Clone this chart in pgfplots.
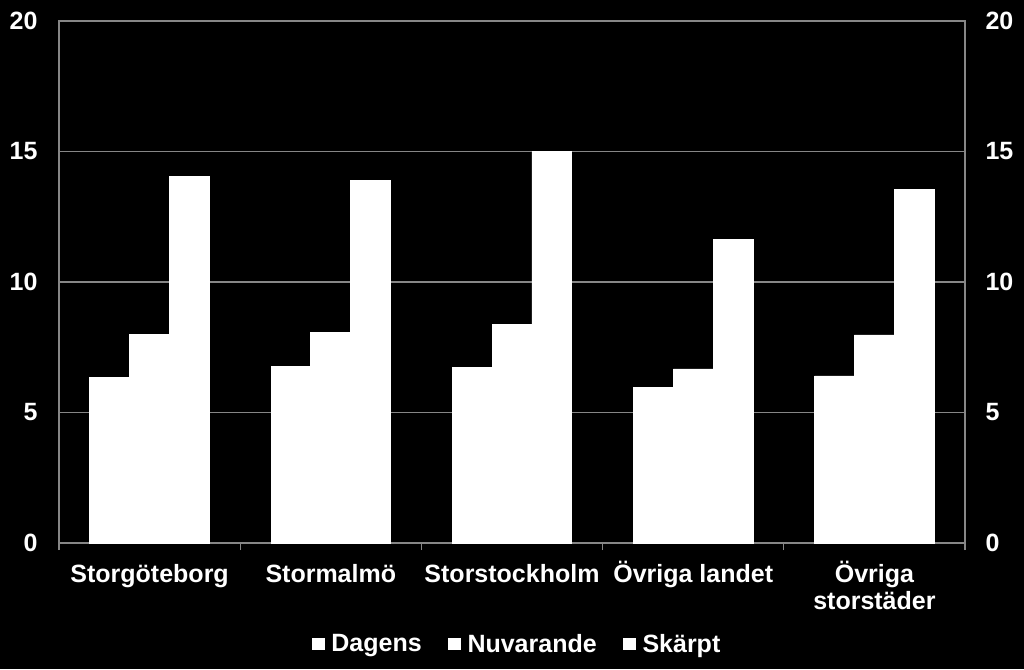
\documentclass[border=0pt]{standalone}
\usepackage{fontspec}
\setmainfont{Liberation Sans}
\usepackage{pgfplots}
\pgfplotsset{compat=1.18}
\usetikzlibrary{backgrounds}
\definecolor{gridc}{RGB}{134,134,134}
\newcommand{\Lh}{\rule{0pt}{23pt}}
\begin{document}
\begin{tikzpicture}
\useasboundingbox (-59pt,-126pt) rectangle (965pt,543pt);
\begin{axis}[
  name=main,
  anchor=south west,
  width=906pt, height=522pt, scale only axis,
  ymin=0, ymax=20, xmin=-0.5, xmax=4.5,
  ytick={0,5,10,15,20},
  ymajorgrids, grid style={gridc, line width=1.2pt},
  axis line style={gridc, line width=1.2pt},
  xtick={0,1,2,3,4},
  xticklabels={\Lh Storgöteborg, \Lh Stormalmö, \Lh Storstockholm, \Lh Övriga landet, {\Lh Övriga\\storstäder}},
  xtick pos=lower, ytick pos=left,
  major tick length=0pt,
  minor xtick={-0.5,0.5,1.5,2.5,3.5,4.5},
  minor tick length=7pt, tick align=outside,
  minor tick style={gridc, line width=1.2pt},
  /pgf/number format/assume math mode=true,
  tick label style={font=\bfseries\fontsize{25}{27}\selectfont, text=white},
  xticklabel style={align=center, anchor=north, inner sep=0pt, yshift=-16pt},
  yticklabel style={xshift=-18pt},
  ybar, bar width=0.22,
  legend columns=3,
  legend style={at={(0.5055,-0.1935)}, anchor=center, draw=none, fill=none,
    text=white, font=\bfseries\fontsize{25}{28}\selectfont,
    /tikz/every even column/.append style={column sep=24pt}},
  legend image code/.code={\fill[white] (0pt,-5.5pt) rectangle (12pt,6pt); \path (17pt,0pt);},
]
\addplot[fill=white, draw=white, line width=0.8pt, bar shift=-0.22] coordinates {(0,6.36) (1,6.75) (2,6.73) (3,5.97) (4,6.40)};
\addplot[fill=white, draw=white, line width=0.8pt, bar shift=0] coordinates {(0,8.00) (1,8.07) (2,8.39) (3,6.67) (4,7.97)};
\addplot[fill=white, draw=white, line width=0.8pt, bar shift=0.22] coordinates {(0,14.06) (1,13.88) (2,15.00) (3,11.62) (4,13.55)};
\legend{Dagens, Nuvarande, Skärpt}
\end{axis}
\begin{axis}[
  anchor=south west,
  width=906pt, height=522pt, scale only axis,
  ymin=0, ymax=20, xmin=-0.5, xmax=4.5,
  axis x line=none, axis y line*=right,
  ytick={0,5,10,15,20},
  major tick length=0pt,
  axis line style={gridc, line width=1.2pt},
  /pgf/number format/assume math mode=true,
  tick label style={font=\bfseries\fontsize{25}{28}\selectfont, text=white},
  yticklabel style={xshift=17pt},
]
\end{axis}
\begin{scope}[on background layer]
\fill[black] (-59pt,-126pt) rectangle (965pt,543pt);
\end{scope}
\end{tikzpicture}
\end{document}
